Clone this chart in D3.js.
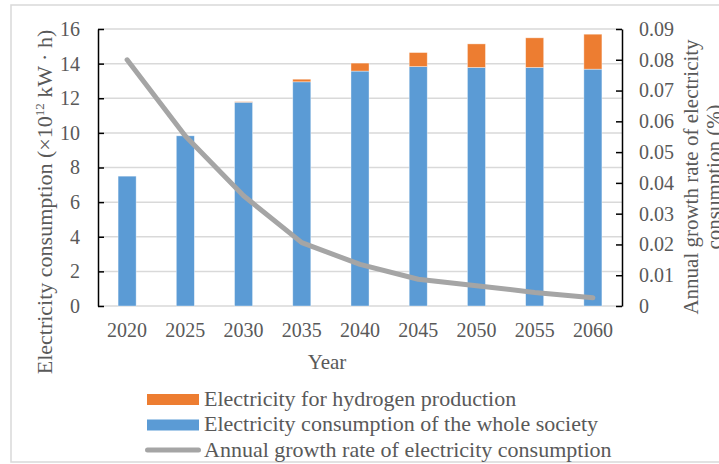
<!DOCTYPE html>
<html>
<head>
<meta charset="utf-8">
<script src="https://cdn.jsdelivr.net/npm/d3@7"></script>
<style>
  html, body { margin: 0; padding: 0; background: #fff; overflow: hidden; }
  svg { display: block; font-family: "Liberation Serif", "Times New Roman", serif; }
</style>
</head>
<body>
<svg id="chart" width="719" height="464"></svg>
<script>
// Projected electricity demand, 2020–2060
const years = ["2020", "2025", "2030", "2035", "2040", "2045", "2050", "2055", "2060"];
const societyConsumption = [7.5, 9.83, 11.77, 12.95, 13.57, 13.83, 13.78, 13.78, 13.68];
const hydrogenElectricity = [0, 0, 0.03, 0.15, 0.46, 0.81, 1.36, 1.71, 2.02];
const growthRate = [0.08, 0.0552, 0.0358, 0.0206, 0.0135, 0.0087, 0.0066, 0.0044, 0.0027];
const leftTicks = [0, 2, 4, 6, 8, 10, 12, 14, 16];
const rightTicks = [0, 0.01, 0.02, 0.03, 0.04, 0.05, 0.06, 0.07, 0.08, 0.09];
const seriesNames = [
  "Electricity for hydrogen production",
  "Electricity consumption of the whole society",
  "Annual growth rate of electricity consumption"
];

const colors = { society: "#5b9bd5", hydrogen: "#ed7d31", growth: "#a5a5a5", text: "#595959", grid: "#d9d9d9" };
const tickFont = 20;
const labelFont = 22;

const svg = d3.select("#chart");
const plot = { left: 98, right: 622, top: 29, bottom: 306 };

// Chart area frame
svg.append("rect")
  .attr("x", 11).attr("y", 5).attr("width", 740).attr("height", 457)
  .attr("fill", "#fff").attr("stroke", colors.grid).attr("stroke-width", 1.5);

const x = d3.scaleBand().domain(years).range([plot.left, plot.right]).paddingInner(0.69).paddingOuter(0.345);
const yL = d3.scaleLinear().domain([0, 16]).range([plot.bottom, plot.top]);
const yR = d3.scaleLinear().domain([0, 0.09]).range([plot.bottom, plot.top]);

// Horizontal gridlines
svg.append("g").selectAll("line").data(leftTicks).join("line")
  .attr("x1", plot.left).attr("x2", plot.right)
  .attr("y1", d => yL(d)).attr("y2", d => yL(d))
  .attr("stroke", colors.grid).attr("stroke-width", 1.5);

// Stacked bars
const stacked = d3.stack().keys(["society", "hydrogen"])(
  years.map((yr, i) => ({ year: yr, society: societyConsumption[i], hydrogen: hydrogenElectricity[i] }))
);
const barColor = { society: colors.society, hydrogen: colors.hydrogen };
svg.append("g").selectAll("g").data(stacked).join("g")
  .attr("fill", d => barColor[d.key])
  .selectAll("rect").data(d => d.filter(s => s[1] - s[0] > 0)).join("rect")
  .attr("x", d => x(d.data.year))
  .attr("width", x.bandwidth())
  .attr("y", d => yL(d[1]))
  .attr("height", d => yL(d[0]) - yL(d[1]))
  .attr("stroke", "#fff").attr("stroke-opacity", 0.5).attr("stroke-width", 0.75);

// Growth rate line on the secondary axis
const line = d3.line()
  .x((d, i) => x(years[i]) + x.bandwidth() / 2)
  .y(d => yR(d));
svg.append("path").datum(growthRate)
  .attr("d", line)
  .attr("fill", "none").attr("stroke", colors.growth)
  .attr("stroke-width", 5).attr("stroke-linejoin", "round").attr("stroke-linecap", "round");

// Left axis
const leftAxis = d3.axisLeft(yL).tickValues(leftTicks).tickSize(-6).tickPadding(18).tickSizeOuter(0);
const gL = svg.append("g").attr("transform", `translate(${plot.left},0)`).call(leftAxis);
gL.select(".domain").attr("stroke", "#000").attr("stroke-width", 1.5);
gL.selectAll(".tick line").attr("stroke", "#000").attr("stroke-width", 1.5);
gL.selectAll(".tick text").attr("fill", colors.text).attr("font-size", tickFont)
  .attr("font-family", "Liberation Serif");

// Right axis
const rightAxis = d3.axisRight(yR).tickValues(rightTicks).tickFormat(d => d === 0 ? "0" : d3.format(".2f")(d))
  .tickSize(-6).tickPadding(17).tickSizeOuter(0);
const gR = svg.append("g").attr("transform", `translate(${plot.right},0)`).call(rightAxis);
gR.select(".domain").attr("stroke", "#000").attr("stroke-width", 1.5);
gR.selectAll(".tick line").attr("stroke", "#000").attr("stroke-width", 1.5);
gR.selectAll(".tick text").attr("fill", colors.text).attr("font-size", tickFont)
  .attr("font-family", "Liberation Serif");

// Category axis labels
const bottomAxis = d3.axisBottom(x).tickSize(0).tickPadding(17);
const gB = svg.append("g").attr("transform", `translate(0,${plot.bottom})`).call(bottomAxis);
gB.select(".domain").remove();
gB.selectAll(".tick text").attr("fill", colors.text).attr("font-size", tickFont)
  .attr("font-family", "Liberation Serif");

// Axis titles
svg.append("text").attr("x", 327).attr("y", 369).attr("text-anchor", "middle")
  .attr("fill", colors.text).attr("font-size", 21).text("Year");

const leftTitle = svg.append("text")
  .attr("transform", "translate(52,202) rotate(-90)")
  .attr("text-anchor", "middle").attr("fill", colors.text).attr("font-size", labelFont);
leftTitle.append("tspan").text("Electricity consumption (×10");
leftTitle.append("tspan").attr("font-size", 13).attr("dy", -8).text("12");
leftTitle.append("tspan").attr("dy", 8).text(" kW · h)");

const rightTitle = svg.append("text")
  .attr("transform", "translate(698,177) rotate(-90)")
  .attr("text-anchor", "middle").attr("fill", colors.text).attr("font-size", 21);
rightTitle.append("tspan").attr("x", 0).text("Annual growth rate of electricity");
rightTitle.append("tspan").attr("x", 0).attr("dy", 23).text("consumption (%)");

// Legend
const legend = svg.append("g");
const legendRows = [
  { name: seriesNames[0], type: "rect", color: colors.hydrogen },
  { name: seriesNames[1], type: "rect", color: colors.society },
  { name: seriesNames[2], type: "line", color: colors.growth }
];
legendRows.forEach((r, i) => {
  const base = 405.7 + i * 25.5;
  if (r.type === "rect") {
    legend.append("rect").attr("x", 147).attr("y", base - 11.7).attr("width", 52).attr("height", 11).attr("fill", r.color);
  } else {
    legend.append("line").attr("x1", 147.5).attr("x2", 198.5).attr("y1", base - 6.7).attr("y2", base - 6.7)
      .attr("stroke", r.color).attr("stroke-width", 5).attr("stroke-linecap", "round");
  }
  legend.append("text").attr("x", 204).attr("y", base).attr("fill", colors.text)
    .attr("font-size", labelFont).text(r.name);
});
</script>
</body>
</html>
